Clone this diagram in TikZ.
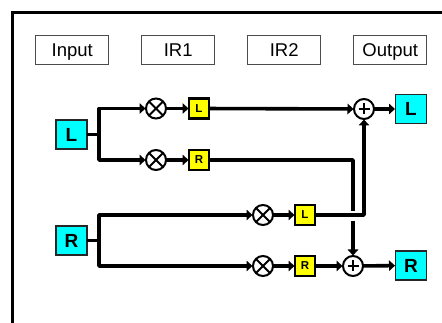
\documentclass[tikz,border=0pt]{standalone}
\usepackage{fontspec}
\setmainfont{Liberation Sans}
\usetikzlibrary{arrows.meta}
\definecolor{inputcyan}{RGB}{0,255,255}
\definecolor{irgold}{RGB}{255,255,0}
\tikzset{
  header/.style={draw=black!70,line width=1pt,fill=white,minimum width=73.5pt,minimum height=29pt,inner sep=0pt,outer sep=0pt,text height=14pt,text depth=0pt,font=\fontsize{18.5}{20}\selectfont},
  io/.style={draw=black!85,line width=1.8pt,fill=inputcyan,minimum width=31pt,minimum height=29pt,inner sep=0pt,outer sep=0pt,font=\fontsize{19}{22}\selectfont\bfseries},
  ir/.style={draw=black,line width=2.2pt,fill=irgold,minimum width=20pt,minimum height=20pt,inner sep=0pt,outer sep=0pt,font=\fontsize{11.5}{13}\selectfont\bfseries},
  mixer/.style={draw=black,line width=2pt,fill=white,circle,minimum size=20pt,inner sep=0pt,outer sep=0pt,
    path picture={\draw[line width=2pt] (path picture bounding box.south west)++(3pt,3pt)--([shift={(-3pt,-3pt)}]path picture bounding box.north east)
      ([shift={(3pt,-3pt)}]path picture bounding box.north west)--([shift={(-3pt,3pt)}]path picture bounding box.south east);}},
  adder/.style={draw=black,line width=2pt,fill=white,circle,minimum size=20pt,inner sep=0pt,outer sep=0pt,
    path picture={\draw[line width=2.4pt] ([yshift=5.5pt]path picture bounding box.center)--([yshift=-5.5pt]path picture bounding box.center)
      ([xshift=-5.5pt]path picture bounding box.center)--([xshift=5.5pt]path picture bounding box.center);}},
  wire/.style={line width=3.6pt,line join=round,line cap=butt},
  flow/.style={wire,-{Triangle[length=6pt,width=10.5pt]},shorten >=0.5pt},
  frameline/.style={line width=3.6pt,line join=miter}
}
\begin{document}
\begin{tikzpicture}[x=1pt,y=-1pt]
\useasboundingbox (0,0) rectangle (442,323);
\coordinate (fa) at (12.5,323);
\coordinate (fb) at (12.5,12.5);
\coordinate (fc) at (442,12.5);
\draw[frameline] (fa)--(fb)--(fc);
\node[header] (hin) at (72.2,50) {Input};
\node[header] (hir1) at (178.2,50) {IR1};
\node[header] (hir2) at (284.2,50) {IR2};
\node[header] (hout) at (390.2,50) {Output};
\node[io] (inL) at (71.5,134.5) {L};
\node[io] (inR) at (71.5,240.5) {R};
\node[io] (outL) at (411,109) {L};
\node[io] (outR) at (411,265.5) {R};
\node[mixer] (m1) at (156,108.5) {};
\node[mixer] (m2) at (156,160) {};
\node[mixer] (m3) at (263,215) {};
\node[mixer] (m4) at (263,266) {};
\node[ir] (y1) at (199,108.5) {L};
\node[ir] (y2) at (199,160) {R};
\node[ir] (y3) at (305,215) {L};
\node[ir] (y4) at (305,266) {R};
\node[adder] (a1) at (364,109) {};
\node[adder] (a2) at (353,266) {};
\coordinate (jL) at (99,134.5);
\coordinate (jLt) at (99,108.5);
\coordinate (jLb) at (99,160);
\coordinate (jR) at (99,240.5);
\coordinate (jRt) at (99,215);
\coordinate (jRb) at (99,266);
\coordinate (cornerA) at (353,160);
\coordinate (gapA) at (353,211);
\coordinate (gapB) at (353,221);
\coordinate (cornerB) at (364,215);
\draw[wire] (inL)--(jL);
\draw[wire] (inR)--(jR);
\draw[flow] (jL)--(jLt)--(m1);
\draw[flow] (jL)--(jLb)--(m2);
\draw[flow] (jR)--(jRt)--(m3);
\draw[flow] (jR)--(jRb)--(m4);
\draw[flow] (m1)--(y1);
\draw[flow] (m2)--(y2);
\draw[flow] (m3)--(y3);
\draw[flow] (m4)--(y4);
\draw[flow] (y1)--(a1);
\draw[flow] (y4)--(a2);
\draw[flow] (a1)--(outL);
\draw[flow] (a2)--(outR);
\draw[wire] (y2)--(cornerA)--(gapA);
\draw[flow] (gapB)--(a2);
\draw[flow] (y3)--(cornerB)--(a1);
\end{tikzpicture}
\end{document}
